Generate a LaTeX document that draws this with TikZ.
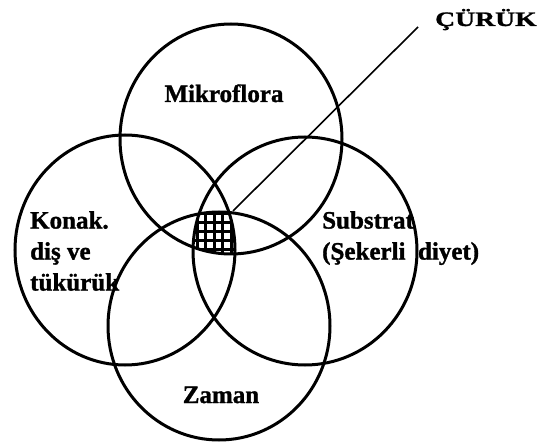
\documentclass[tikz,border=0pt]{standalone}
\usepackage{fontspec}
\setmainfont{Liberation Serif}[BoldFeatures={FakeBold=1.2}]
\newfontface\genisfont[FakeStretch=1.35, FakeBold=1.2]{Liberation Serif Bold}
\usetikzlibrary{positioning}

\begin{document}
\begin{tikzpicture}[x=1pt, y=-1pt,
    halka/.style={line width=3pt},
    izgara/.style={line width=3pt},
    etiket/.style={font=\fontsize{25}{31}\selectfont\bfseries, inner sep=0pt}]
  \useasboundingbox (0,0) rectangle (541,446);
  % the four factors
  \draw[halka] (231,139) ellipse [x radius=111pt, y radius=115pt];
  \draw[halka] (125,250) ellipse [x radius=110pt, y radius=115pt];
  \draw[halka] (305,251) ellipse [x radius=112pt, y radius=114pt];
  \draw[halka] (219,326) ellipse [x radius=111pt, y radius=114pt];
  % common part, hatched
  \begin{scope}
    \clip (231,139) ellipse [x radius=111pt, y radius=115pt];
    \clip (125,250) ellipse [x radius=110pt, y radius=115pt];
    \clip (305,251) ellipse [x radius=112pt, y radius=114pt];
    \clip (219,326) ellipse [x radius=111pt, y radius=114pt];
    \foreach \x in {197,205.5,...,240}
      \draw[izgara] (\x,200) -- (\x,265);
    \foreach \y in {213.5,222.5,...,258}
      \draw[izgara] (185,\y) -- (245,\y);
  \end{scope}
  \coordinate (kesisim) at (233,211);
  % labels
  \node[etiket, anchor=base] (mikro) at (224,102) {Mikroflora};
  \node[etiket, anchor=north west, align=left] (konak) at (30,211) {Konak.\\diş ve\\tükürük};
  \node[etiket, anchor=north west, align=left] (substrat) at (322,211) {Substrat\\(Şekerli\hspace{0.5em}diyet)};
  \node[etiket, anchor=base] (zaman) at (221,403) {Zaman};
  \node[font=\genisfont\fontsize{20.5}{24}\selectfont, inner sep=0pt, anchor=base west] (curuk) at (435,26) {ÇÜRÜK};
  \coordinate[left=17pt of curuk.base west, yshift=-1pt] (cizgiucu);
  \draw[line width=1.6pt] (kesisim) -- (cizgiucu);
\end{tikzpicture}
\end{document}
